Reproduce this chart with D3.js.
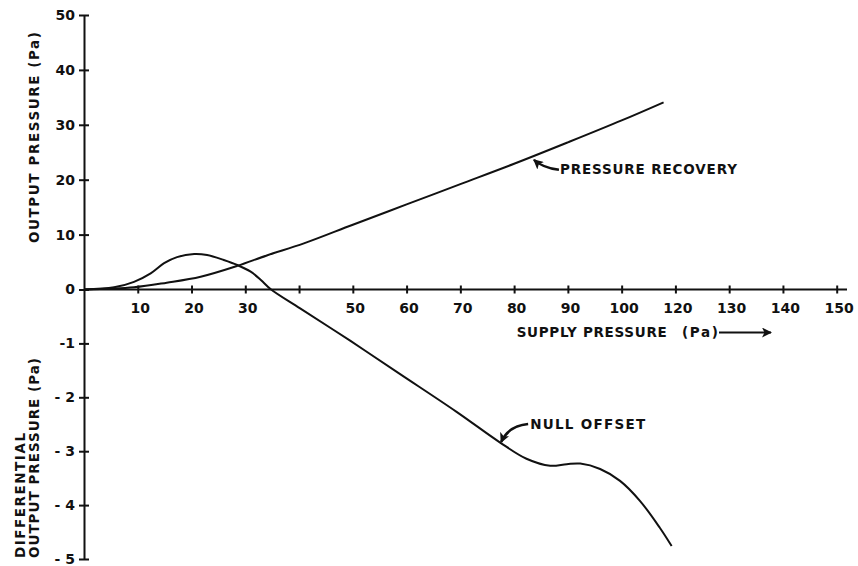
<!DOCTYPE html>
<html>
<head>
<meta charset="utf-8">
<script src="https://cdn.jsdelivr.net/npm/d3@7"></script>
<style>
  html, body { margin: 0; padding: 0; background: #fff; }
  svg { display: block; }
  text { font-family: "DejaVu Sans", "Liberation Sans", sans-serif; font-weight: bold; fill: #111; }
</style>
</head>
<body>
<svg id="chart" width="858" height="566"></svg>
<script>
// ---- data (x in supply-pressure axis units, y in the axis' own units) ----
const xTickValues = [10, 20, 30, 40, 50, 60, 70, 80, 90, 100, 110, 120, 130, 140];
const xTickLabels = ["10", "20", "30", "", "50", "60", "70", "80", "90", "100", "120", "130", "140", "150"];
const yTickValues = [-5, -4, -3, -2, -1, 0, 10, 20, 30, 40, 50];
const yTickLabels = ["- 5", "- 4", "- 3", "- 2", "-1", "0", "10", "20", "30", "40", "50"];

const recoveryX = [0, 9.3, 15.4, 21.7, 28.5, 34.0, 40.9, 50, 60, 70, 80, 90, 100, 107.8];
const recoveryY = [0, 0.4, 1.24, 2.33, 4.3, 6.2, 8.4, 11.8, 15.5, 19.2, 22.9, 26.8, 30.8, 34.1];

const nullX = [0, 5.6, 9.3, 12.4, 14.9, 17.3, 20.5, 22.9, 26.0, 28.5, 31.0, 32.9, 34.8, 40.2, 49.5, 58.8, 69.3, 77.4, 82.3, 86.7, 89.8, 92.3, 96.0, 99.7, 103.4, 107.1, 109.3];
const nullY = [0, 0.4, 1.4, 2.95, 4.8, 5.9, 6.47, 6.28, 5.37, 4.46, 3.24, 1.73, 0, -0.35, -0.95, -1.57, -2.27, -2.84, -3.14, -3.27, -3.24, -3.23, -3.33, -3.55, -3.92, -4.42, -4.76];

const annotations = [
  { text: "PRESSURE RECOVERY", x: 83.5, y: 23.8, kind: "recovery" },
  { text: "NULL OFFSET", x: 77.4, y: -2.85, kind: "null" }
];

// ---- scales ----
const svg = d3.select("#chart");
const x = d3.scaleLinear().domain([0, 140]).range([84, 836.7]);
const y = d3.scaleLinear().domain([-5, 0, 50]).range([559, 289.5, 15]);

// arrow marker
const defs = svg.append("defs");
defs.append("marker")
  .attr("id", "head").attr("viewBox", "0 0 10 10")
  .attr("refX", 9).attr("refY", 5)
  .attr("markerWidth", 10).attr("markerHeight", 10)
  .attr("markerUnits", "userSpaceOnUse")
  .attr("orient", "auto")
  .append("path").attr("d", "M0,0 L10,5 L0,10 L2.5,5 Z").attr("fill", "#111");

// ---- axes ----
const xAxis = d3.axisBottom(x)
  .tickValues(xTickValues)
  .tickFormat((d, i) => xTickLabels[i])
  .tickSizeInner(0).tickSizeOuter(0).tickPadding(13.5);
const gx = svg.append("g").attr("transform", `translate(0,${y(0)})`).call(xAxis);
gx.select(".domain").attr("d", `M${x(0)},0H${x(0) + 763}`).attr("stroke", "#111").attr("stroke-width", 2);
gx.selectAll(".tick line").attr("y1", -4).attr("y2", 4).attr("stroke", "#111").attr("stroke-width", 2);
gx.selectAll(".tick text").attr("font-size", 14).attr("dx", 2).attr("font-family", "DejaVu Sans").attr("font-weight", "bold").attr("fill", "#111");

const yAxis = d3.axisLeft(y)
  .tickValues(yTickValues)
  .tickFormat((d, i) => yTickLabels[i])
  .tickSizeInner(0).tickSizeOuter(0).tickPadding(9);
const gy = svg.append("g").attr("transform", `translate(${x(0)},0)`).call(yAxis);
gy.select(".domain").attr("stroke", "#111").attr("stroke-width", 2);
gy.selectAll(".tick line").attr("x1", -5).attr("x2", 5).attr("stroke", "#111").attr("stroke-width", 2);
gy.selectAll(".tick text").attr("font-size", 14).attr("font-family", "DejaVu Sans").attr("font-weight", "bold").attr("fill", "#111").attr("xml:space", "preserve");

// ---- curves ----
const line = d3.line().x(d => x(d[0])).y(d => y(d[1])).curve(d3.curveCatmullRom.alpha(0.5));
svg.append("path").datum(recoveryX.map((v, i) => [v, recoveryY[i]]))
  .attr("d", line).attr("fill", "none").attr("stroke", "#111").attr("stroke-width", 2);
svg.append("path").datum(nullX.map((v, i) => [v, nullY[i]]))
  .attr("d", line).attr("fill", "none").attr("stroke", "#111").attr("stroke-width", 2);

// ---- annotations ----
annotations.forEach(a => {
  const hx = x(a.x), hy = y(a.y);
  if (a.kind === "recovery") {
    svg.append("path")
      .attr("d", `M${hx + 26},${hy + 11} Q${hx + 10},${hy + 9} ${hx + 1},${hy + 1}`)
      .attr("fill", "none").attr("stroke", "#111").attr("stroke-width", 2.5)
      .attr("marker-end", "url(#head)");
    svg.append("text").attr("x", hx + 27).attr("y", hy + 15)
      .attr("font-size", 13.5).attr("textLength", 177).attr("lengthAdjust", "spacing")
      .text(a.text);
  } else {
    svg.append("path")
      .attr("d", `M${hx + 28},${hy - 19} Q${hx + 8},${hy - 17} ${hx + 1},${hy - 1}`)
      .attr("fill", "none").attr("stroke", "#111").attr("stroke-width", 2.5)
      .attr("marker-end", "url(#head)");
    svg.append("text").attr("x", hx + 30).attr("y", hy - 14)
      .attr("font-size", 13.5).attr("textLength", 115).attr("lengthAdjust", "spacing")
      .text(a.text);
  }
});

// ---- axis titles ----
svg.append("text").attr("x", 516.7).attr("y", 337)
  .attr("font-size", 13.5).attr("textLength", 150).attr("lengthAdjust", "spacing")
  .text("SUPPLY PRESSURE");
svg.append("text").attr("x", 682).attr("y", 337)
  .attr("font-size", 13.5).attr("textLength", 36).attr("lengthAdjust", "spacing")
  .text("(Pa)");
svg.append("line").attr("x1", 719).attr("y1", 332.5).attr("x2", 771).attr("y2", 332.5)
  .attr("stroke", "#111").attr("stroke-width", 1.8).attr("marker-end", "url(#head)");

svg.append("text").attr("transform", "translate(39,243) rotate(-90)")
  .attr("font-size", 13.5).attr("textLength", 211).attr("lengthAdjust", "spacing")
  .text("OUTPUT PRESSURE (Pa)");
svg.append("text").attr("transform", "translate(25,558) rotate(-90)")
  .attr("font-size", 13.5).attr("textLength", 125).attr("lengthAdjust", "spacing")
  .text("DIFFERENTIAL");
svg.append("text").attr("transform", "translate(39,558) rotate(-90)")
  .attr("font-size", 13.5).attr("textLength", 200).attr("lengthAdjust", "spacing")
  .text("OUTPUT PRESSURE (Pa)");
</script>
</body>
</html>
